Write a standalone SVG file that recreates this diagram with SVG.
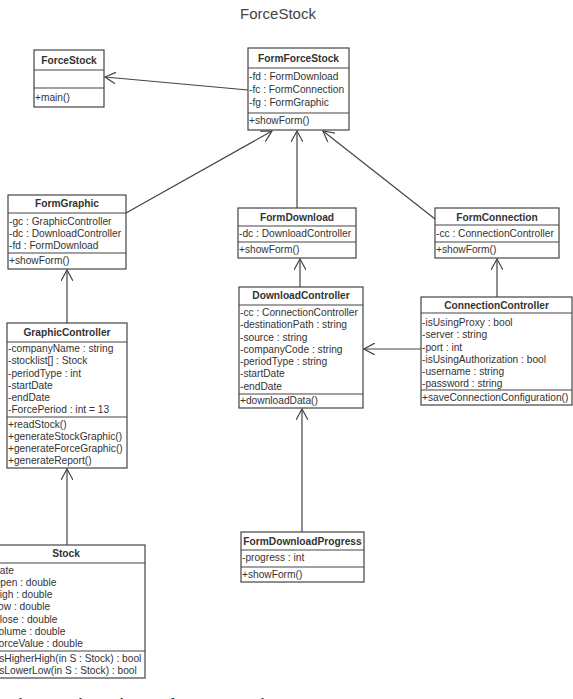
<svg xmlns="http://www.w3.org/2000/svg" width="573" height="699" viewBox="0 0 573 699">
<defs>
<style>
.box{fill:#fff;stroke:#444;stroke-width:1.2}
.div{stroke:#444;stroke-width:1.2}
.t{font-family:"Liberation Sans",Arial,sans-serif;font-size:10.2px;fill:#333}
.h{font-family:"Liberation Sans",Arial,sans-serif;font-size:10.2px;font-weight:bold;fill:#333;text-anchor:middle}
.title{font-family:"Liberation Sans",Arial,sans-serif;font-size:15px;fill:#444;text-anchor:middle}
.cap{font-family:"Liberation Sans",Arial,sans-serif;font-size:14px;font-weight:bold;fill:#333}
.c{stroke:#444;stroke-width:1.2;fill:none;marker-end:url(#open)}
</style>
<marker id="open" viewBox="0 0 12 12" refX="11" refY="6" markerWidth="12" markerHeight="12" markerUnits="userSpaceOnUse" orient="auto">
<path d="M0,0 L11,6 L0,12" fill="none" stroke="#444" stroke-width="1.2"/>
</marker>
</defs>
<rect width="573" height="699" fill="#fff"/>
<text class="title" x="278" y="19">ForceStock</text>

<g id="connectors">
<line class="c" x1="248" y1="90" x2="105" y2="77"/>
<line class="c" x1="126" y1="213" x2="272" y2="131"/>
<line class="c" x1="297" y1="208" x2="297" y2="131"/>
<line class="c" x1="435" y1="219" x2="323" y2="131"/>
<line class="c" x1="67" y1="323" x2="67" y2="270"/>
<line class="c" x1="67" y1="545" x2="67" y2="469"/>
<line class="c" x1="300" y1="287" x2="300" y2="259"/>
<line class="c" x1="421" y1="349" x2="364" y2="349"/>
<line class="c" x1="497" y1="297" x2="497" y2="259"/>
<line class="c" x1="302" y1="532" x2="302" y2="409"/>
</g>

<g id="ForceStock">
<rect class="box" x="34" y="50" width="70" height="57"/>
<line class="div" x1="34" y1="70" x2="104" y2="70"/>
<line class="div" x1="34" y1="88" x2="104" y2="88"/>
<text class="h" x="69" y="64">ForceStock</text>
<text class="t" x="35" y="101">+main()</text>
</g>

<g id="FormForceStock">
<rect class="box" x="248" y="48" width="101" height="82"/>
<line class="div" x1="248" y1="68" x2="349" y2="68"/>
<line class="div" x1="248" y1="113" x2="349" y2="113"/>
<text class="h" x="298.5" y="62">FormForceStock</text>
<text class="t" x="249" y="80">-fd : FormDownload</text>
<text class="t" x="249" y="93">-fc : FormConnection</text>
<text class="t" x="249" y="106">-fg : FormGraphic</text>
<text class="t" x="249" y="124">+showForm()</text>
</g>

<g id="FormGraphic">
<rect class="box" x="8" y="195" width="118" height="74"/>
<line class="div" x1="8" y1="213" x2="126" y2="213"/>
<line class="div" x1="8" y1="253" x2="126" y2="253"/>
<text class="h" x="67" y="207">FormGraphic</text>
<text class="t" x="9" y="225">-gc : GraphicController</text>
<text class="t" x="9" y="237">-dc : DownloadController</text>
<text class="t" x="9" y="249">-fd : FormDownload</text>
<text class="t" x="9" y="264">+showForm()</text>
</g>

<g id="GraphicController">
<rect class="box" x="7" y="323" width="120" height="145"/>
<line class="div" x1="7" y1="342" x2="127" y2="342"/>
<line class="div" x1="7" y1="417" x2="127" y2="417"/>
<text class="h" x="67" y="336">GraphicController</text>
<text class="t" x="8" y="352">-companyName : string</text>
<text class="t" x="8" y="364">-stocklist[] : Stock</text>
<text class="t" x="8" y="377">-periodType : int</text>
<text class="t" x="8" y="389">-startDate</text>
<text class="t" x="8" y="401">-endDate</text>
<text class="t" x="8" y="413">-ForcePeriod : int = 13</text>
<text class="t" x="8" y="428">+readStock()</text>
<text class="t" x="8" y="440">+generateStockGraphic()</text>
<text class="t" x="8" y="452">+generateForceGraphic()</text>
<text class="t" x="8" y="464">+generateReport()</text>
</g>

<g id="Stock">
<rect class="box" x="-12" y="545" width="157" height="133"/>
<line class="div" x1="-12" y1="563" x2="145" y2="563"/>
<line class="div" x1="-12" y1="651" x2="145" y2="651"/>
<text class="h" x="66" y="557">Stock</text>
<text class="t" x="-11" y="574">-Date</text>
<text class="t" x="-11" y="586">-Open : double</text>
<text class="t" x="-11" y="598">-High : double</text>
<text class="t" x="-11" y="610">-Low : double</text>
<text class="t" x="-11" y="623">-Close : double</text>
<text class="t" x="-11" y="635">-Volume : double</text>
<text class="t" x="-11" y="647">-ForceValue : double</text>
<text class="t" x="-9" y="662">+isHigherHigh(in S : Stock) : bool</text>
<text class="t" x="-9" y="674">+isLowerLow(in S : Stock) : bool</text>
</g>

<g id="FormDownload">
<rect class="box" x="238" y="208" width="118" height="50"/>
<line class="div" x1="238" y1="226" x2="356" y2="226"/>
<line class="div" x1="238" y1="242" x2="356" y2="242"/>
<text class="h" x="297" y="221">FormDownload</text>
<text class="t" x="239" y="237">-dc : DownloadController</text>
<text class="t" x="239" y="253">+showForm()</text>
</g>

<g id="DownloadController">
<rect class="box" x="239" y="287" width="124" height="121"/>
<line class="div" x1="239" y1="305" x2="363" y2="305"/>
<line class="div" x1="239" y1="394" x2="363" y2="394"/>
<text class="h" x="301" y="299">DownloadController</text>
<text class="t" x="240" y="316">-cc : ConnectionController</text>
<text class="t" x="240" y="328">-destinationPath : string</text>
<text class="t" x="240" y="341">-source : string</text>
<text class="t" x="240" y="353">-companyCode : string</text>
<text class="t" x="240" y="365">-periodType : string</text>
<text class="t" x="240" y="377">-startDate</text>
<text class="t" x="240" y="390">-endDate</text>
<text class="t" x="240" y="404">+downloadData()</text>
</g>

<g id="FormConnection">
<rect class="box" x="435" y="208" width="124" height="50"/>
<line class="div" x1="435" y1="225" x2="559" y2="225"/>
<line class="div" x1="435" y1="242" x2="559" y2="242"/>
<text class="h" x="497" y="221">FormConnection</text>
<text class="t" x="436" y="237">-cc : ConnectionController</text>
<text class="t" x="436" y="253">+showForm()</text>
</g>

<g id="ConnectionController">
<rect class="box" x="421" y="297" width="151" height="108"/>
<line class="div" x1="421" y1="313" x2="572" y2="313"/>
<line class="div" x1="421" y1="390" x2="572" y2="390"/>
<text class="h" x="496.5" y="309">ConnectionController</text>
<text class="t" x="422" y="326">-isUsingProxy : bool</text>
<text class="t" x="422" y="338">-server : string</text>
<text class="t" x="422" y="351">-port : int</text>
<text class="t" x="422" y="363">-isUsingAuthorization : bool</text>
<text class="t" x="422" y="375">-username : string</text>
<text class="t" x="422" y="387">-password : string</text>
<text class="t" x="422" y="401">+saveConnectionConfiguration()</text>
</g>

<g id="FormDownloadProgress">
<rect class="box" x="241" y="532" width="123" height="50"/>
<line class="div" x1="241" y1="550" x2="364" y2="550"/>
<line class="div" x1="241" y1="567" x2="364" y2="567"/>
<text class="h" x="302.5" y="545">FormDownloadProgress</text>
<text class="t" x="242" y="561">-progress : int</text>
<text class="t" x="242" y="578">+showForm()</text>
</g>

<text class="cap" x="10" y="709">Figure 1 Class Diagram for ForceStock</text>
</svg>
